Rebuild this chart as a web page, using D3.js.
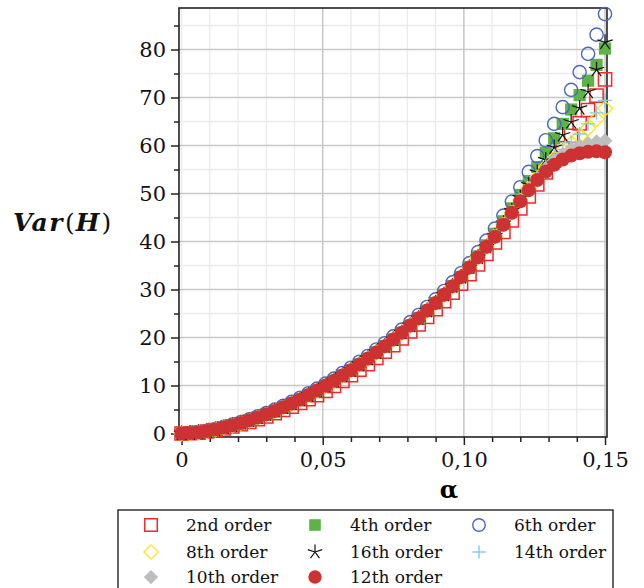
<!DOCTYPE html>
<html><head><meta charset="utf-8">
<script src="https://cdn.jsdelivr.net/npm/d3@7"></script>
<style>html,body{margin:0;padding:0;background:#fff;} svg{display:block;}</style>
</head><body>
<svg id="chart" width="644" height="588"></svg>
<script>
// ---------------- DATA ----------------
const alpha = [0,0.003,0.006,0.009,0.012,0.015,0.018,0.021,0.024,0.027,0.030,0.033,0.036,0.039,0.042,0.045,0.048,0.051,0.054,0.057,0.060,0.063,0.066,0.069,0.072,0.075,0.078,0.081,0.084,0.087,0.090,0.093,0.096,0.099,0.102,0.105,0.108,0.111,0.114,0.117,0.120,0.123,0.126,0.129,0.132,0.135,0.138,0.141,0.144,0.147,0.150];

const order2  = [0,0.05,0.2,0.42,0.72,1.08,1.48,1.93,2.43,2.98,3.58,4.22,4.9,5.6,6.35,7.15,8.0,8.9,9.9,10.95,12.15,13.3,14.45,15.75,17.05,18.4,19.8,21.25,22.75,24.3,25.9,27.55,29.35,31.2,33.2,35.25,37.4,39.8,42.0,44.4,46.9,49.4,51.9,54.4,56.9,59.4,62.0,64.6,67.4,70.4,73.8];
const order4  = [0,0.08,0.25,0.5,0.85,1.25,1.7,2.2,2.75,3.35,4.0,4.7,5.45,6.25,7.1,8.0,8.95,9.95,11.0,12.1,13.2,14.4,15.6,16.9,18.2,19.6,21.0,22.5,24.0,25.6,27.2,28.9,30.7,32.6,34.7,36.9,39.2,41.6,44.2,46.9,49.7,52.6,55.5,58.5,61.5,64.5,67.5,70.5,73.5,76.8,80.2];
const order6  = [0,0.1,0.3,0.58,0.95,1.38,1.85,2.38,2.95,3.58,4.25,4.98,5.75,6.58,7.45,8.38,9.35,10.4,11.45,12.6,13.7,14.95,16.15,17.5,18.8,20.25,21.65,23.2,24.7,26.35,27.95,29.7,31.5,33.4,35.5,37.8,40.2,42.7,45.4,48.3,51.3,54.5,57.8,61.1,64.5,68.0,71.6,75.3,79.1,83.1,87.4];
const order8  = [0,0.08,0.25,0.5,0.85,1.25,1.7,2.2,2.75,3.35,4.0,4.7,5.45,6.25,7.1,8.0,8.95,9.95,11.0,12.1,13.2,14.4,15.6,16.9,18.2,19.6,21.0,22.5,24.0,25.6,27.2,28.9,30.7,32.6,34.6,36.7,38.9,41.1,43.6,46.1,48.6,51.1,53.4,55.5,57.3,58.9,60.4,61.9,63.6,65.5,67.7];
const order16 = [0,0.08,0.25,0.5,0.85,1.25,1.7,2.2,2.75,3.35,4.0,4.7,5.45,6.25,7.1,8.0,8.95,9.95,11.0,12.1,13.2,14.4,15.6,16.9,18.2,19.6,21.0,22.5,24.0,25.6,27.2,28.9,30.7,32.6,34.6,36.7,38.9,41.2,43.8,46.4,49.1,51.8,54.4,57.0,59.6,62.2,64.9,67.8,71.2,75.8,81.5];
const order14 = [0,0.08,0.25,0.5,0.85,1.25,1.7,2.2,2.75,3.35,4.0,4.7,5.45,6.25,7.1,8.0,8.95,9.95,11.0,12.1,13.2,14.4,15.6,16.9,18.2,19.6,21.0,22.5,24.0,25.6,27.2,28.9,30.7,32.6,34.6,36.7,38.9,41.1,43.6,46.1,48.6,51.1,53.5,55.7,57.6,59.2,60.7,62.4,64.5,66.8,69.4];
const order10 = [0,0.08,0.25,0.5,0.85,1.25,1.7,2.2,2.75,3.35,4.0,4.7,5.45,6.25,7.1,8.0,8.95,9.95,11.0,12.1,13.2,14.4,15.6,16.9,18.2,19.6,21.0,22.5,24.0,25.6,27.2,28.9,30.7,32.6,34.6,36.7,38.9,41.1,43.6,46.1,48.6,51.0,53.2,55.2,56.9,58.2,59.2,59.9,60.4,60.8,61.0];
const order12 = [0,0.08,0.25,0.5,0.85,1.25,1.7,2.2,2.75,3.35,4.0,4.7,5.45,6.25,7.1,8.0,8.95,9.95,11.0,12.1,13.2,14.4,15.6,16.9,18.2,19.6,21.0,22.5,24.0,25.6,27.2,28.9,30.7,32.6,34.6,36.7,38.9,41.0,43.5,46.0,48.4,50.7,52.8,54.6,56.0,57.1,57.9,58.4,58.7,58.8,58.6];

const seriesNames = ["2nd order","4th order","6th order","8th order","16th order","14th order","10th order","12th order"];

const xMajorTicks = [0, 0.05, 0.10, 0.15];
const xTickLabels = ["0", "0,05", "0,10", "0,15"];
const xMinorTicks = [0.01,0.02,0.03,0.04,0.06,0.07,0.08,0.09,0.11,0.12,0.13,0.14];
const xGridMinor  = [0,0.01,0.02,0.03,0.04,0.06,0.07,0.08,0.09,0.11,0.12,0.13,0.14];
const yMajorTicks = [0,10,20,30,40,50,60,70,80];
const yTickLabels = ["0","10","20","30","40","50","60","70","80"];
const yMinorTicks = [5,15,25,35,45,55,65,75,85];

// ---------------- STYLES ----------------
const styles = [
  {type:"square",   stroke:"#ee2a2a", fill:"none",    size:6.6, sw:1.5},
  {type:"square",   stroke:"none",    fill:"#5db345", size:6.1, sw:0},
  {type:"circle",   stroke:"#4c67bb", fill:"none",    size:6.6, sw:1.4},
  {type:"diamond",  stroke:"#ffe41a", fill:"none",    size:7.5, sw:1.3},
  {type:"asterisk", stroke:"#111111", fill:"none",    size:8,   sw:1.2},
  {type:"plus",     stroke:"#86cde8", fill:"none",    size:7,   sw:1.4},
  {type:"diamond",  stroke:"none",    fill:"#bdbdbd", size:7.5, sw:0},
  {type:"circle",   stroke:"none",    fill:"#cd3131", size:7,   sw:0}
];
const legendStyles = styles.map(s => Object.assign({}, s, {size: s.size * 0.95}));
const seriesValues = [order2, order4, order6, order8, order16, order14, order10, order12];

function markerPath(type, s) {
  if (type === "square") return `M${-s},${-s}H${s}V${s}H${-s}Z`;
  if (type === "circle") return `M${s},0A${s},${s} 0 1,1 ${-s},0A${s},${s} 0 1,1 ${s},0Z`;
  if (type === "diamond") return `M0,${-s}L${s},0L0,${s}L${-s},0Z`;
  if (type === "plus") return `M${-s},0H${s}M0,${-s}V${s}`;
  if (type === "asterisk") {
    let p = "";
    for (let k = 0; k < 5; k++) {
      const a = (-90 + 72 * k) * Math.PI / 180;
      p += `M0,0L${(s * Math.cos(a)).toFixed(2)},${(s * Math.sin(a)).toFixed(2)}`;
    }
    return p;
  }
  return "";
}

// ---------------- CHART ----------------
const svg = d3.select("#chart");
const L = 179, R = 607, T = 8, B = 437;
const x = d3.scaleLinear().domain([-0.0009, 0.1507]).range([L, R]);
const y = d3.scaleLinear().domain([-0.73, 88.65]).range([B, T]);

const serif = "'DejaVu Serif', serif";

// gridlines
const grid = svg.append("g");
grid.selectAll(".gxm").data(xGridMinor).join("line")
  .attr("x1", d => x(d)).attr("x2", d => x(d)).attr("y1", T).attr("y2", B)
  .attr("stroke", "#ebebeb").attr("stroke-width", 1.3);
grid.selectAll(".gym").data(yMinorTicks).join("line")
  .attr("y1", d => y(d)).attr("y2", d => y(d)).attr("x1", L).attr("x2", R)
  .attr("stroke", "#ebebeb").attr("stroke-width", 1.3);
grid.selectAll(".gxM").data(xMajorTicks.slice(1)).join("line")
  .attr("x1", d => x(d)).attr("x2", d => x(d)).attr("y1", T).attr("y2", B)
  .attr("stroke", "#c8c8c8").attr("stroke-width", 1.6);
grid.selectAll(".gyM").data(yMajorTicks.slice(1)).join("line")
  .attr("y1", d => y(d)).attr("y2", d => y(d)).attr("x1", L).attr("x2", R)
  .attr("stroke", "#c8c8c8").attr("stroke-width", 1.6);

// axes
const xAxis = d3.axisBottom(x).tickValues(xMajorTicks).tickSize(8).tickPadding(7)
  .tickFormat((d, i) => xTickLabels[i]);
const xAxisMinor = d3.axisBottom(x).tickValues(xMinorTicks).tickSize(5).tickFormat("");
const yAxis = d3.axisLeft(y).tickValues(yMajorTicks).tickSize(8).tickPadding(5)
  .tickFormat((d, i) => yTickLabels[i]);
const yAxisMinor = d3.axisLeft(y).tickValues(yMinorTicks).tickSize(5).tickFormat("");

function styleAxis(g) {
  g.select(".domain").remove();
  g.selectAll(".tick line").attr("stroke", "#222").attr("stroke-width", 1.5);
  g.selectAll(".tick text").attr("font-family", serif).attr("font-size", 21).attr("fill", "#111");
}
svg.append("g").attr("transform", `translate(0,${B})`).call(xAxis).call(styleAxis);
svg.append("g").attr("transform", `translate(0,${B})`).call(xAxisMinor).call(styleAxis);
svg.append("g").attr("transform", `translate(${L},0)`).call(yAxis).call(styleAxis);
svg.append("g").attr("transform", `translate(${L},0)`).call(yAxisMinor).call(styleAxis);

// frame
svg.append("rect").attr("x", L).attr("y", T).attr("width", R - L).attr("height", B - T)
  .attr("fill", "none").attr("stroke", "#222").attr("stroke-width", 1.6);

// series markers
seriesValues.forEach((vals, si) => {
  const st = styles[si];
  svg.append("g").selectAll("path")
    .data(alpha.map((a, i) => [a, vals[i]]))
    .join("path")
    .attr("transform", d => `translate(${x(d[0])},${y(d[1])})`)
    .attr("d", markerPath(st.type, st.size))
    .attr("fill", st.fill).attr("stroke", st.stroke).attr("stroke-width", st.sw);
});

// axis titles
svg.append("text").attr("x", 449).attr("y", 498).attr("text-anchor", "middle")
  .attr("font-family", serif).attr("font-weight", "bold").attr("font-size", 24).text("α");

const yl = svg.append("text").attr("x", 13).attr("y", 231).attr("font-family", serif).attr("fill", "#111");
yl.append("tspan").attr("font-weight", "bold").attr("font-style", "italic").attr("font-size", 25)
  .attr("letter-spacing", 1.5).text("Var");
yl.append("tspan").attr("font-size", 25).attr("dx", 1).text("(");
yl.append("tspan").attr("font-weight", "bold").attr("font-style", "italic").attr("font-size", 25)
  .attr("dx", 1).text("H");
yl.append("tspan").attr("font-size", 25).attr("dx", 2).text(")");

// legend
const legSymX = [151, 315, 479], legTextX = [186, 350, 514], legRowY = [525, 552, 577];
svg.append("rect").attr("x", 118).attr("y", 510).attr("width", 495).attr("height", 100)
  .attr("fill", "#fff").attr("stroke", "#333").attr("stroke-width", 1.5);
seriesNames.forEach((name, i) => {
  const col = i % 3, row = Math.floor(i / 3);
  const st = legendStyles[i];
  svg.append("path").attr("transform", `translate(${legSymX[col]},${legRowY[row]})`)
    .attr("d", markerPath(st.type, st.size))
    .attr("fill", st.fill).attr("stroke", st.stroke).attr("stroke-width", st.sw);
  svg.append("text").attr("x", legTextX[col]).attr("y", legRowY[row]).attr("dy", "0.36em")
    .attr("font-family", serif).attr("font-size", 17).attr("fill", "#111").text(name);
});
</script>
</body></html>
